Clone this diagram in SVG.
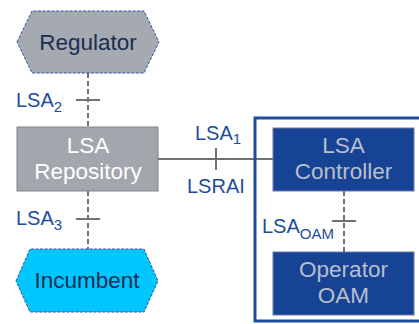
<svg xmlns="http://www.w3.org/2000/svg" width="419" height="324" viewBox="0 0 419 324">
<style>
text{font-family:"Liberation Sans",Arial,sans-serif}
.lbl{font-size:20px;fill:#1f4c9c}
.sub{font-size:15px}
.nt{font-size:22.5px;text-anchor:middle}
.hex{stroke:#2b55a3;stroke-width:1;stroke-dasharray:3 1.5}
.dash{stroke:#6e7175;stroke-width:2;stroke-dasharray:5 3;fill:none}
.ln{stroke:#6e7175;stroke-width:2;fill:none}
</style>
<rect width="419" height="324" fill="#ffffff"/>
<g id="connectors">
<line class="dash" x1="88" y1="73" x2="88" y2="127"/>
<line class="ln" x1="76" y1="100" x2="100" y2="100"/>
<line class="dash" x1="88" y1="191" x2="88" y2="249"/>
<line class="ln" x1="76" y1="219" x2="100" y2="219"/>
<line class="ln" x1="158" y1="159" x2="273" y2="159"/>
<line class="ln" x1="216" y1="148" x2="216" y2="170"/>
<line class="dash" x1="344" y1="191" x2="344" y2="252"/>
<line class="ln" x1="332" y1="221" x2="356" y2="221"/>
<text class="lbl" x="16" y="107">LSA<tspan class="sub" dy="5">2</tspan></text>
<text class="lbl" x="16" y="225">LSA<tspan class="sub" dy="5">3</tspan></text>
<text class="lbl" x="195" y="140">LSA<tspan class="sub" dy="4">1</tspan></text>
<text class="lbl" x="187" y="193">LSRAI</text>
<text class="lbl" x="262" y="233">LSA<tspan class="sub" dy="6" font-size="16">OAM</tspan></text>
</g>
<g id="domain">
<rect x="255" y="118" width="172" height="203" fill="none" stroke="#1f4c9c" stroke-width="3"/>
</g>
<g id="regulator">
<polygon class="hex" points="17,42 32,11 144,11 159,42 144,73 32,73" fill="#a5a9b0"/>
<text class="nt" x="88" y="50" fill="#1b2d55">Regulator</text>
</g>
<g id="repository">
<rect x="17" y="127" width="141" height="64" fill="#a2a6ad" stroke="#808489" stroke-width="1"/>
<text class="nt" x="88" y="153" fill="#ffffff">LSA</text>
<text class="nt" x="88" y="179" fill="#ffffff">Repository</text>
</g>
<g id="incumbent">
<polygon class="hex" points="16,281 30,249 144,249 158,281 144,312 30,312" fill="#00c6ff"/>
<text class="nt" x="87" y="288" fill="#1b2d55">Incumbent</text>
</g>
<g id="controller">
<rect x="273" y="128" width="141" height="63" fill="#174395" stroke="#6b7d9f" stroke-width="1"/>
<text class="nt" x="343.5" y="153" fill="#b8bfcc">LSA</text>
<text class="nt" x="343.5" y="179" fill="#b8bfcc">Controller</text>
</g>
<g id="oam">
<rect x="273" y="252" width="141" height="63" fill="#174395" stroke="#6b7d9f" stroke-width="1"/>
<text class="nt" x="343.5" y="277" fill="#b8bfcc">Operator</text>
<text class="nt" x="343.5" y="303" fill="#b8bfcc">OAM</text>
</g>
</svg>
